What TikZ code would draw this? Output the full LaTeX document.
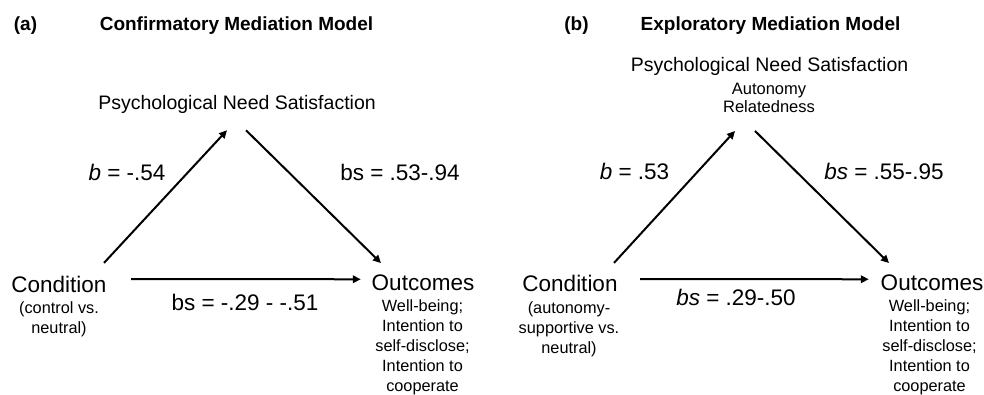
\documentclass[tikz,border=0pt]{standalone}
\usepackage{fontspec}
\setmainfont{Liberation Sans}
\usetikzlibrary{arrows.meta}

\begin{document}
\begin{tikzpicture}[x=1pt,y=-1pt,
    big/.style={font=\fontsize{22.5}{27}\selectfont, inner sep=0pt, anchor=base},
    mid/.style={font=\fontsize{19.5}{23}\selectfont, inner sep=0pt, anchor=base},
    sml/.style={font=\fontsize{16.3}{20}\selectfont, inner sep=0pt, anchor=base, align=center},
    ttl/.style={font=\fontsize{19}{23}\selectfont\bfseries, inner sep=0pt, anchor=base},
    arr/.style={-{Triangle[length=8pt,width=7.5pt]}, line width=2pt}]
    \useasboundingbox (0,0) rectangle (984,394);

    \node[ttl] (ta) at (25.5,30) {(a)};
    \node[ttl] (tta) at (236.5,30) {Confirmatory Mediation Model};
    \node[mid] (pns) at (237,109) {Psychological Need Satisfaction};
    \node[big] (cond) at (59,292) {Condition};
    \node[sml] (condsub) at (59,333.3) {(control vs.\\neutral)};
    \node[big] (out) at (423,290) {Outcomes};
    \node[sml] (outsub) at (422.5,391) {Well-being;\\Intention to\\self-disclose;\\Intention to\\cooperate};
    \node[big] (la) at (127,180) {\textit{b} = -.54};
    \node[big] (lb) at (400,180) {bs = .53-.94};
    \node[big] (lc) at (245,310.7) {bs = -.29 - -.51};

    \draw[arr] ([xshift=45pt,yshift=12.6pt]cond.north) -- ([xshift=-10pt,yshift=-17pt]pns.south);
    \draw[arr] ([xshift=9pt,yshift=-17pt]pns.south) -- ([xshift=-42pt,yshift=11pt]out.north);
    \draw[arr] ([xshift=24.5pt,yshift=4.8pt]cond.east) -- ([xshift=-10.75pt,yshift=3pt]out.west);

    \node[ttl] (tb) at (576.5,30) {(b)};
    \node[ttl] (ttb) at (770.5,30) {Exploratory Mediation Model};
    \node[mid] (pns2) at (769.5,71.7) {Psychological Need Satisfaction};
    \node[sml, font=\fontsize{16.5}{18.5}\selectfont] (pnssub2) at (769,112.5) {Autonomy\\Relatedness};
    \node[big] (cond2) at (570,291.7) {Condition};
    \node[sml] (condsub2) at (569,353.3) {(autonomy-\\supportive vs.\\neutral)};
    \node[big] (out2) at (932,290) {Outcomes};
    \node[sml] (outsub2) at (929.5,391.7) {Well-being;\\Intention to\\self-disclose;\\Intention to\\cooperate};
    \node[big] (la2) at (634.5,179.3) {\textit{b} = .53};
    \node[big] (lb2) at (884,179.3) {\textit{bs} = .55-.95};
    \node[big] (lc2) at (736,305.7) {\textit{bs} = .29-.50};

    \draw[arr] ([xshift=44pt,yshift=12.3pt]cond2.north) -- ([xshift=-34.5pt,yshift=-55pt]pns2.south);
    \draw[arr] ([xshift=-14.5pt,yshift=-55pt]pns2.south) -- ([xshift=-43pt,yshift=11pt]out2.north);
    \draw[arr] ([xshift=22.5pt,yshift=4.5pt]cond2.east) -- ([xshift=-11.75pt,yshift=3pt]out2.west);
\end{tikzpicture}
\end{document}
